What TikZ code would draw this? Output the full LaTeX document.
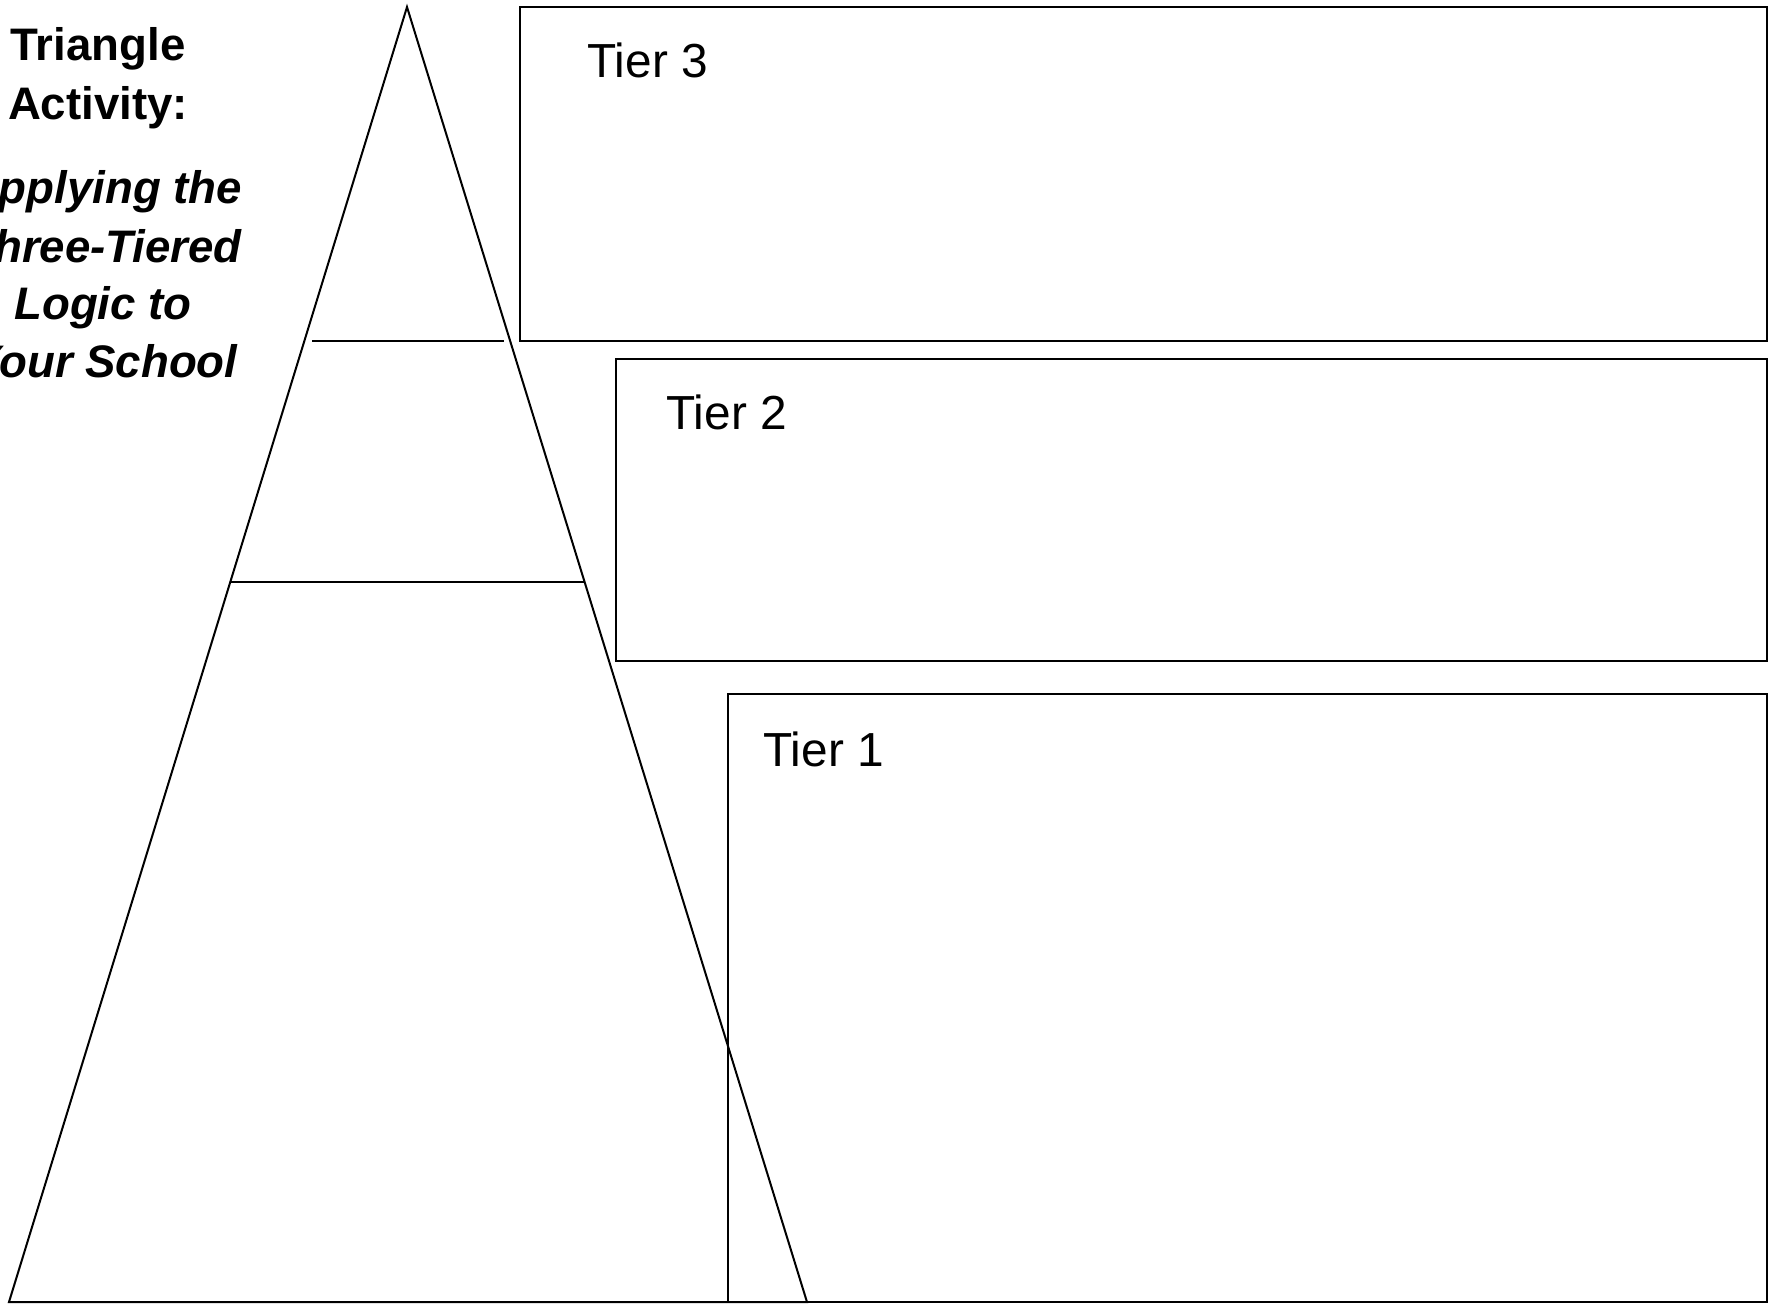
\documentclass[tikz,border=0pt]{standalone}
\usepackage{fontspec}
\setmainfont{Liberation Sans}
\begin{document}
\begin{tikzpicture}[x=0.5pt,y=-0.5pt,
  edge/.style={draw=black,line width=1pt,line join=miter},
  title/.style={anchor=base,inner sep=0pt,font=\fontsize{22.8pt}{26pt}\selectfont\bfseries},
  subtitle/.style={anchor=base,inner sep=0pt,font=\fontsize{22.8pt}{26pt}\selectfont\bfseries\itshape},
  tierlabel/.style={anchor=base west,inner sep=0pt,font=\fontsize{23.9pt}{28pt}\selectfont}]
\useasboundingbox (0,0) rectangle (1775,1307);
% triangle
\coordinate (apex) at (407,7);
\coordinate (bl) at (9,1302);
\coordinate (br) at (807,1302);
\draw[edge] (apex) -- (bl) -- (br) -- cycle;
% tier divider lines
\coordinate (d1a) at (312,341);
\coordinate (d1b) at (504,341);
\coordinate (d2a) at (231,582);
\coordinate (d2b) at (584,582);
\draw[edge] (d1a) -- (d1b);
\draw[edge] (d2a) -- (d2b);
% boxes
\coordinate (t3nw) at (520,7);
\coordinate (t3se) at (1767,341);
\coordinate (t2nw) at (616,359);
\coordinate (t2se) at (1767,661);
\coordinate (t1nw) at (728,694);
\coordinate (t1se) at (1767,1302);
\draw[edge] (t3nw) rectangle (t3se);
\draw[edge] (t2nw) rectangle (t2se);
\draw[edge] (t1nw) rectangle (t1se);
% tier labels
\node[tierlabel] (lab3) at (587,77) {Tier 3};
\node[tierlabel] (lab2) at (666,429) {Tier 2};
\node[tierlabel] (lab1) at (763,766) {Tier 1};
% title
\node[title] (ti1) at (98,60) {Triangle};
\node[title] (ti2) at (98,119) {Activity:};
\node[subtitle] (st1) at (104,203) {Applying the};
\node[subtitle] (st2) at (104,262) {Three-Tiered};
\node[subtitle] (st3) at (103,319) {Logic to};
\node[subtitle] (st4) at (104,377) {Your School};
\end{tikzpicture}
\end{document}
